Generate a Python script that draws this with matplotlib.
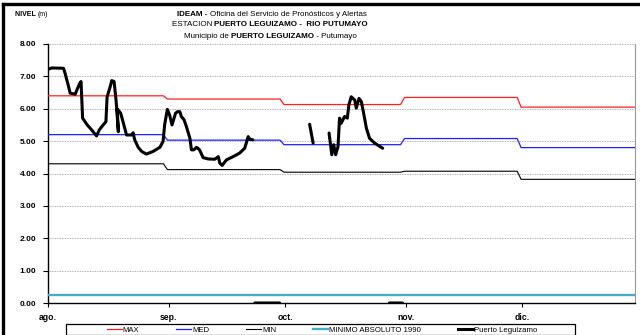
import numpy as np
import matplotlib
matplotlib.use('Agg')
import matplotlib.pyplot as plt
from matplotlib.lines import Line2D
from matplotlib.patches import Rectangle

plt.rcParams['font.family'] = ['Liberation Sans', 'DejaVu Sans']

# --- datos ---
month_labels = ['ago.', 'sep.', 'oct.', 'nov.', 'dic.']
month_first = [0, 31, 61, 92, 122]   # dia desde 1 de agosto
day_end = 151

max_lvl = [6.40, 6.30, 6.13, 6.35, 6.05]
med_lvl = [5.20, 5.03, 4.89, 5.08, 4.80]
min_lvl = [4.30, 4.12, 4.04, 4.07, 3.82]
minimo_1990 = 0.25

# Puerto Leguizamo (nan = sin dato)
pl_day = [0.0, 1.0, 4.0, 4.4, 5.2, 5.7, 7.0, 7.5, 8.2, 8.5, 8.9, 10.1, 11.2,
          12.5, 13.2, 14.2, 14.9, 15.2, 16.0, 16.4, 17.0, 17.5, 18.1, 17.8,
          18.7, 19.3, 20.2, 21.5, 21.9, 22.3, 23.2, 24.1, 25.3, 27.0, 28.8,
          29.6, 30.0, 30.7, 31.3, 31.9, 32.8, 33.3, 33.9, 34.3, 35.0, 35.6,
          36.5, 36.9, 37.5, 38.2, 39.0, 39.9, 41.2, 42.9, 43.8, 44.2, 44.8,
          45.9, 47.6, 49.3, 50.6, 51.5, 51.9, 52.7,
          np.nan, 53.2, 59.6,
          np.nan, 67.3, 68.2,
          np.nan, 72.3, 73.0, 73.5, 74.0, 74.6, 75.0, 75.4, 76.3, 77.0, 77.4,
          78.0, 78.9, 79.3, 80.0, 80.6, 81.2, 81.9, 82.7, 84.0, 86.1,
          np.nan, 87.8, 91.2]
pl_level = [7.22, 7.26, 7.25, 7.09, 6.73, 6.48, 6.45, 6.60, 6.79, 6.84, 5.71,
            5.50, 5.35, 5.16, 5.35, 5.50, 5.60, 6.37, 6.68, 6.87, 6.84, 6.27,
            5.29, 6.00, 5.86, 5.60, 5.19, 5.19, 5.26, 5.04, 4.81, 4.68, 4.60,
            4.68, 4.81, 4.99, 5.50, 5.98, 5.80, 5.50, 5.86, 5.91, 5.91, 5.76,
            5.66, 5.45, 5.09, 4.73, 4.73, 4.81, 4.73, 4.49, 4.45, 4.44, 4.52,
            4.32, 4.25, 4.42, 4.52, 4.63, 4.78, 5.14, 5.06, 5.04,
            np.nan, 0.0, 0.0,
            np.nan, 5.52, 4.94,
            np.nan, 5.25, 4.58, 4.89, 4.58, 4.83, 5.71, 5.55, 5.76, 5.71, 6.12,
            6.37, 6.27, 6.02, 6.32, 6.22, 5.86, 5.40, 5.09, 4.94, 4.78,
            np.nan, 0.0, 0.0]


def monthly_steps(values):
    """Escalones mensuales con pequena transicion antes de cada mes."""
    xs, ys = [], []
    for i, v in enumerate(values):
        x0 = month_first[i] - 0.3 if i > 0 else 0
        x1 = month_first[i + 1] - 1.3 if i + 1 < len(month_first) else day_end
        xs += [x0, x1]
        ys += [v, v]
    return xs, ys


W, H = 640, 335
fig = plt.figure(figsize=(W / 100, H / 100), dpi=100)
ax = fig.add_axes([48 / W, 1 - 303 / H, (635 - 48) / W, (303 - 44) / H])

ax.set_xlim(0, day_end)
ax.set_ylim(0, 8)

for y in range(1, 9):
    ax.axhline(y, color='#9a9a9a', lw=0.6, ls=(0, (1, 1)), zorder=1)

x, y = monthly_steps(max_lvl)
ax.plot(x, y, color='#ff2020', lw=0.9, zorder=3)
x, y = monthly_steps(med_lvl)
ax.plot(x, y, color='#1f1fff', lw=0.9, zorder=3)
x, y = monthly_steps(min_lvl)
ax.plot(x, y, color='#000000', lw=0.8, zorder=3)
ax.plot([0, day_end], [minimo_1990, minimo_1990], color='#4bacc6', lw=1.7, zorder=3)
ax.plot(pl_day, pl_level, color='black', lw=2.2, zorder=4,
        solid_capstyle='round', solid_joinstyle='round')

ax.set_yticks(range(0, 9))
ax.set_yticklabels([f'{v:.2f}' for v in range(0, 9)], fontweight='bold', fontsize=6)
ax.set_xticks(month_first)
ax.set_xticklabels(month_labels, fontweight='bold', fontsize=6.2)
ax.tick_params(axis='y', length=3.5, width=0.8, pad=5, direction='out')
ax.tick_params(axis='x', length=3, width=0.8, pad=4, direction='out')

ax.spines['left'].set_linewidth(1.0)
ax.spines['bottom'].set_linewidth(1.0)
ax.spines['right'].set_color('#9a9a9a')
ax.spines['right'].set_linewidth(0.8)
ax.spines['top'].set_visible(False)

# --- titulos con partes en negrita ---
renderer = fig.canvas.get_renderer()


def rich_line(pieces, xc, yc, size, ha='center'):
    texts = []
    for s, bold in pieces:
        t = fig.text(0, 1 - yc / H, s, fontsize=size, va='center',
                     fontweight='bold' if bold else 'normal')
        texts.append(t)
    widths = [t.get_window_extent(renderer).width for t in texts]
    total = sum(widths)
    x0 = xc - total / 2 if ha == 'center' else xc
    for t, w in zip(texts, widths):
        t.set_x(x0 / W)
        x0 += w


rich_line([('IDEAM - ', True), ('Oficina del Servicio de Pronósticos y Alertas', False)],
          272, 14, 5.8)
rich_line([('ESTACION ', False), ('PUERTO LEGUIZAMO -  RIO PUTUMAYO', True)],
          270, 25, 5.8)
rich_line([('Municipio de ', False), ('PUERTO LEGUIZAMO', True), (' - Putumayo', False)],
          270, 36, 5.8)
rich_line([('NIVEL ', True), ('(m)', False)], 15, 15, 5.0, ha='left')

# --- leyenda ---
fig.patches.append(Rectangle((66 / W, 0), (575 - 66) / W, 1 - 324 / H,
                             transform=fig.transFigure, fill=False,
                             edgecolor='black', lw=0.9))
handles = [
    Line2D([], [], color='#ff2020', lw=0.9),
    Line2D([], [], color='#1f1fff', lw=0.9),
    Line2D([], [], color='black', lw=0.8),
    Line2D([], [], color='#4bacc6', lw=1.7),
    Line2D([], [], color='black', lw=2.2),
]
labels = ['MAX', 'MED', 'MIN', 'MINIMO ABSOLUTO 1990', 'Puerto Leguizamo']
fig.legend(handles, labels, loc='center left', bbox_to_anchor=(103 / W, 1 - 330 / H),
           ncol=5, frameon=False, fontsize=5.6, borderpad=0, handlelength=1.9,
           handletextpad=0.1, columnspacing=4.8)

# --- marco exterior ---
fig.lines.append(Line2D([3 / W, 1], [1 - 4 / H, 1 - 4 / H], transform=fig.transFigure,
                        color='black', lw=2.4))
fig.lines.append(Line2D([3 / W, 3 / W], [0, 1 - 4 / H], transform=fig.transFigure,
                        color='black', lw=2.4))

fig.savefig('out.png', dpi=100)
